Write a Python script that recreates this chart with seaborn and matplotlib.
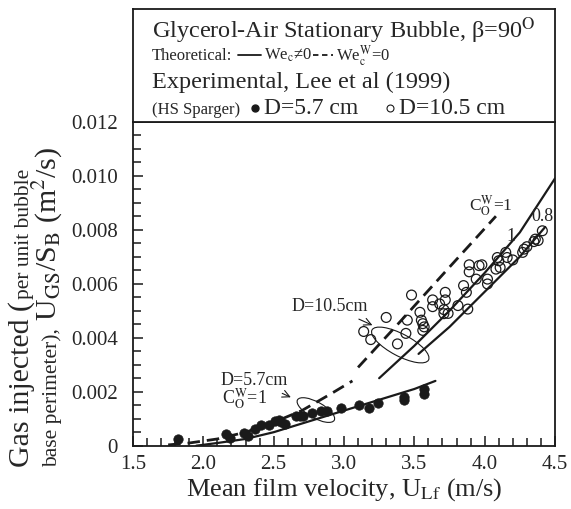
import numpy as np
import pandas as pd
import matplotlib
matplotlib.use("Agg")
import matplotlib.pyplot as plt
from matplotlib.patches import Ellipse
from matplotlib.transforms import ScaledTranslation
from matplotlib.lines import Line2D
import seaborn as sns

# experimental, D=5.7 cm (filled)
x57 = [1.82, 2.16, 2.19, 2.29, 2.32, 2.37, 2.41, 2.47, 2.51, 2.54, 2.55, 2.58, 2.66,
       2.69, 2.71, 2.77, 2.84, 2.88, 2.98, 3.11, 3.18, 3.24, 3.43, 3.43, 3.57, 3.57]
y57 = [0.00026, 0.00045, 0.00027, 0.00048, 0.00037, 0.00063, 0.00075, 0.00075, 0.00093,
       0.00095, 0.00088, 0.00080, 0.00110, 0.00110, 0.00110, 0.00120, 0.00130, 0.00130,
       0.00140, 0.00150, 0.00140, 0.00160, 0.00170, 0.00180, 0.00190, 0.00210]

# experimental, D=10.5 cm (open)
x105 = [3.14, 3.19, 3.30, 3.38, 3.44, 3.45, 3.48, 3.54, 3.55, 3.56, 3.57, 3.56, 3.63, 3.63,
        3.68, 3.71, 3.71, 3.74, 3.72, 3.72, 3.81, 3.85, 3.87, 3.88, 3.89, 3.89, 3.94, 3.96,
        3.98, 4.02, 4.02, 4.08, 4.09, 4.10, 4.11, 4.15, 4.16, 4.20, 4.27, 4.28, 4.30, 4.35,
        4.36, 4.38, 4.41]
y105 = [0.00423, 0.00393, 0.00475, 0.00377, 0.00416, 0.00465, 0.00558, 0.00494, 0.00465,
        0.00452, 0.00440, 0.00427, 0.00540, 0.00515, 0.00525, 0.00504, 0.00489, 0.00490,
        0.00568, 0.00540, 0.00519, 0.00593, 0.00568, 0.00506, 0.00670, 0.00644, 0.00617,
        0.00667, 0.00670, 0.00617, 0.00599, 0.00654, 0.00697, 0.00685, 0.00660, 0.00716,
        0.00697, 0.00688, 0.00716, 0.00728, 0.00737, 0.00756, 0.00765, 0.00760, 0.00796]

# theoretical curves
x_sol57 = [1.95, 2.1, 2.3, 2.5, 2.75, 3.0, 3.25, 3.5, 3.65]
y_sol57 = [0.0, 0.0001, 0.00025, 0.0005, 0.0009, 0.0013, 0.0017, 0.0021, 0.0024]
x_dash57 = [1.75, 1.9, 2.1, 2.3, 2.47, 2.7, 2.9, 3.06]
y_dash57 = [0.00003, 0.0001, 0.00025, 0.0005, 0.0008, 0.0013, 0.0019, 0.0024]
x_dash105 = [3.1, 3.4, 3.73, 4.08]
y_dash105 = [0.0029, 0.0046, 0.0065, 0.0085]
x_sol105_1 = [3.25, 3.5, 3.75, 4.0, 4.25, 4.5]
y_sol105_1 = [0.0025, 0.0037, 0.0050, 0.0064, 0.0079, 0.0099]
x_sol105_08 = [3.53, 3.75, 4.0, 4.25, 4.43]
y_sol105_08 = [0.0034, 0.0044, 0.0057, 0.0070, 0.0081]

xticks = [1.5, 2.0, 2.5, 3.0, 3.5, 4.0, 4.5]
xtick_labels = ["1.5", "2.0", "2.5", "3.0", "3.5", "4.0", "4.5"]
yticks = [0, 0.002, 0.004, 0.006, 0.008, 0.010, 0.012]
ytick_labels = ["0", "0.002", "0.004", "0.006", "0.008", "0.010", "0.012"]

sns.set_theme(style="ticks")
plt.rcParams["font.family"] = ["Liberation Serif", "DejaVu Serif"]
plt.rcParams["mathtext.fontset"] = "stix"
plt.rcParams["axes.linewidth"] = 1.3

W_PX, H_PX = 571, 509
fig = plt.figure(figsize=(W_PX / 100, H_PX / 100), dpi=100)
fig.patch.set_facecolor("white")

L, R, B, T, TB = 133, 555, 445.7, 121.7, 9
ax = fig.add_axes([L / W_PX, 1 - B / H_PX, (R - L) / W_PX, (B - T) / H_PX])
ax.set_facecolor("white")

lw = 1.6
sns.lineplot(x=x_sol57, y=y_sol57, ax=ax, color="k", lw=lw, sort=False, estimator=None)
sns.lineplot(x=x_dash57, y=y_dash57, ax=ax, color="k", lw=2.0, sort=False, estimator=None,
             linestyle=(0, (4.5, 2.5)))
sns.lineplot(x=x_dash105, y=y_dash105, ax=ax, color="k", lw=2.0, sort=False, estimator=None,
             linestyle=(0, (4.5, 2.5)))
sns.lineplot(x=x_sol105_1, y=y_sol105_1, ax=ax, color="k", lw=lw, sort=False, estimator=None)
sns.lineplot(x=x_sol105_08, y=y_sol105_08, ax=ax, color="k", lw=lw, sort=False, estimator=None)

sns.scatterplot(x=x57, y=y57, ax=ax, color="k", s=46, edgecolor="k", linewidth=0.5, zorder=3)
sns.scatterplot(x=x105, y=y105, ax=ax, facecolor="none", edgecolor="k", s=50, linewidth=0.9,
                zorder=3)

ax.set_xlim(1.5, 4.5)
ax.set_ylim(0, 0.012)
ax.set_xticks(xticks)
ax.set_xticklabels(xtick_labels)
ax.set_yticks(yticks)
ax.set_yticklabels(ytick_labels)
ax.set_xticks(np.arange(1.5, 4.51, 0.1), minor=True)
ax.set_yticks(np.arange(0, 0.01201, 0.0005), minor=True)
ax.tick_params(which="both", direction="in", color="k", labelsize=15, width=1.1)
ax.tick_params(which="major", length=7)
ax.tick_params(which="minor", length=6)
ax.tick_params(axis="y", pad=11)
ax.tick_params(axis="x", pad=7)
for sp in ax.spines.values():
    sp.set_color("k")
ax.set_xlabel("Mean film velocity, U$_{\\mathrm{Lf}}$ (m/s)", fontsize=19, labelpad=1)
ax.set_ylabel("")


def px(xp, yp):
    return xp / W_PX, 1 - yp / H_PX


# ellipses drawn in screen units around a data point
def ell(xc, yc, w, h, ang):
    tr = fig.dpi_scale_trans + ScaledTranslation(xc, yc, ax.transData)
    ax.add_patch(Ellipse((0, 0), w / 100, h / 100, angle=ang, transform=tr,
                         fill=False, ec="k", lw=0.8, zorder=4))


ell(3.40, 0.00373, 64, 22, -28)
ell(2.80, 0.00132, 42, 16, -29)

ax.annotate("D=10.5cm", xy=(3.22, 0.00442), xytext=(2.63, 0.0050), fontsize=13,
            va="baseline", arrowprops=dict(arrowstyle="->", lw=0.8, color="k"))
ax.annotate("D=5.7cm", xy=(2.64, 0.00175), xytext=(2.12, 0.00225), fontsize=13,
            va="baseline", arrowprops=dict(arrowstyle="->", lw=0.8, color="k"))
ax.text(2.13, 0.00155, "C$_{\\mathrm{O}}^{\\mathrm{W}}$=1", fontsize=13, va="baseline")
ax.text(3.89, 0.0087, "C$_{\\mathrm{O}}^{\\mathrm{W}}$=1", fontsize=12.5, va="baseline")
ax.text(4.19, 0.00775, "1", fontsize=13, ha="center", va="center")
ax.text(4.41, 0.0085, "0.8", fontsize=13, ha="center", va="center")

# legend box on top of the plot
lax = fig.add_axes([L / W_PX, 1 - T / H_PX, (R - L) / W_PX, (T - TB) / H_PX])
lax.set_xticks([])
lax.set_yticks([])
lax.set_facecolor("white")
for sp in lax.spines.values():
    sp.set_color("k")
    sp.set_linewidth(1.3)

fig.text(*px(151.7, 38), "Glycerol-Air Stationary Bubble, \u03b2=90$^{\\mathrm{O}}$",
         fontsize=17.5, va="baseline")
fig.text(*px(151.7, 60), "Theoretical:", fontsize=12, va="baseline")
fig.add_artist(Line2D([238 / W_PX, 261 / W_PX], [1 - 55 / H_PX] * 2, color="k", lw=1.3))
fig.text(*px(264, 60), "We$_{\\mathrm{c}}$\u22600", fontsize=12, va="baseline")
fig.add_artist(Line2D([313 / W_PX, 333 / W_PX], [1 - 55 / H_PX] * 2, color="k", lw=1.3,
                      ls=(0, (3, 2))))
fig.text(*px(336, 61), "We$_{\\mathrm{c}}^{\\mathrm{W}}$=0", fontsize=12, va="baseline")
fig.text(*px(151.7, 88), "Experimental, Lee et al (1999)", fontsize=17.5, va="baseline")
fig.text(*px(151.7, 114), "(HS Sparger)", fontsize=12, va="baseline")
fig.add_artist(Line2D([255 / W_PX], [1 - 108 / H_PX], marker="o", ms=5, color="k", ls=""))
fig.text(*px(264, 114), "D=5.7 cm", fontsize=17, va="baseline")
fig.add_artist(Line2D([390 / W_PX], [1 - 108 / H_PX], marker="o", ms=5, mfc="none",
                      mec="k", mew=0.8, ls=""))
fig.text(*px(399, 114), "D=10.5 cm", fontsize=17, va="baseline")

# y label made of several rotated pieces, chained one after another
fig.canvas.draw()
rend = fig.canvas.get_renderer()


def column(xb, y0, parts):
    ypos = y0
    for s, size in parts:
        t = fig.text(xb / W_PX, ypos / H_PX, s, rotation=90, rotation_mode="anchor",
                     ha="left", va="baseline", fontsize=size)
        bb = t.get_window_extent(rend)
        ypos = bb.y1 + 2


column(29, H_PX - 467, [("Gas injected (", 21.5), ("per unit bubble", 15.5)])
column(57, H_PX - 467, [("base perimeter), ", 15.5),
                        ("U$_{\\mathrm{GS}}$/S$_{\\mathrm{B}}$ (m$^{2}$/s)", 21.5)])

fig.savefig("out.png", dpi=100, facecolor="white")
